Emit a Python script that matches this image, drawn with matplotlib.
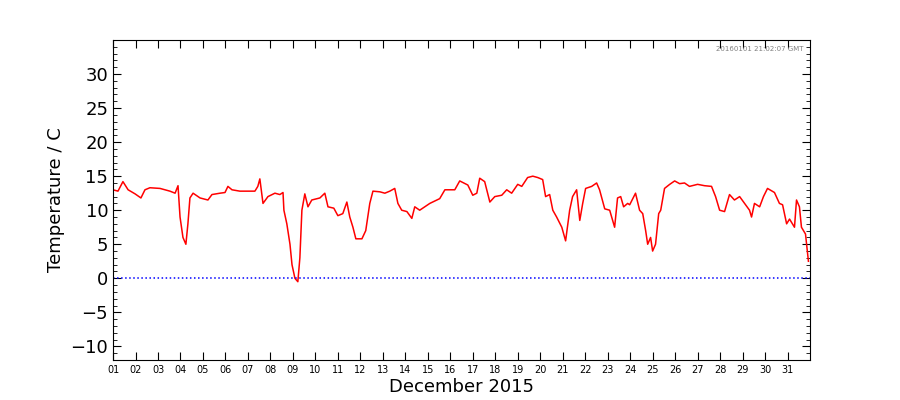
import matplotlib
matplotlib.use("Agg")
import matplotlib.pyplot as plt
from matplotlib.ticker import MultipleLocator

days = [0, .22, .44, .67, .98, 1.24, 1.42, 1.64, 2.09, 2.53, 2.76, 2.89, 2.98, 3.11, 3.24, 3.33, 3.42, 3.56,
        3.87, 4.22, 4.4, 4.76, 4.98, 5.11, 5.29, 5.64, 6.31, 6.44, 6.53, 6.67, 6.89, 7.2, 7.42, 7.56, 7.6,
        7.73, 7.87, 7.96, 8.09, 8.22, 8.31, 8.4, 8.53, 8.67, 8.84, 9.2, 9.42, 9.56, 9.82, 10.0, 10.22, 10.4,
        10.53, 10.67, 10.8, 11.07, 11.24, 11.42, 11.56, 11.87, 12.09, 12.31, 12.53, 12.67, 12.84, 13.07,
        13.29, 13.42, 13.64, 14.09, 14.53, 14.76, 15.2, 15.42, 15.78, 16.0, 16.18, 16.31, 16.53, 16.76,
        16.98, 17.29, 17.51, 17.73, 18.0, 18.18, 18.44, 18.67, 18.89, 19.11, 19.24, 19.42, 19.56, 19.73,
        19.96, 20.13, 20.31, 20.44, 20.62, 20.76, 20.89, 21.02, 21.29, 21.51, 21.64, 21.87, 22.09, 22.31,
        22.44, 22.58, 22.71, 22.89, 22.98, 23.24, 23.42, 23.56, 23.69, 23.78, 23.91, 24.0, 24.13, 24.27,
        24.36, 24.53, 24.76, 24.98, 25.2, 25.42, 25.64, 26.0, 26.31, 26.62, 26.8, 26.98, 27.2, 27.42,
        27.64, 27.87, 28.09, 28.31, 28.4, 28.53, 28.76, 28.93, 29.11, 29.42, 29.64, 29.78, 29.96, 30.09,
        30.31, 30.4, 30.53, 30.62, 30.8, 30.93]
temps = [13, 12.8, 14.2, 13, 12.4, 11.8, 13, 13.3, 13.2, 12.8, 12.5, 13.6, 9, 6, 5, 8, 11.8, 12.5,
         11.8, 11.5, 12.3, 12.5, 12.6, 13.5, 13, 12.8, 12.8, 13.5, 14.6, 11, 12, 12.5, 12.3, 12.6, 10,
         8, 5, 2, 0, -0.5, 3, 10, 12.4, 10.5, 11.5, 11.8, 12.5, 10.5, 10.3, 9.2, 9.5, 11.2,
         9, 7.5, 5.8, 5.8, 7, 11, 12.8, 12.7, 12.5, 12.8, 13.2, 11, 10, 9.8,
         8.8, 10.5, 10, 11, 11.7, 13, 13, 14.3, 13.7, 12.2, 12.5, 14.7, 14.2, 11.2,
         12, 12.2, 13, 12.5, 13.8, 13.5, 14.8, 15, 14.8, 14.5, 12, 12.3, 10, 9,
         7.5, 5.5, 10, 12, 13, 8.5, 11, 13.2, 13.5, 14, 13, 10.2, 10, 7.5,
         11.8, 12, 10.5, 11, 10.8, 12.5, 10, 9.5, 7, 5, 6, 4, 5, 9.5,
         10, 13.2, 13.8, 14.3, 13.9, 14, 13.5, 13.8, 13.6, 13.5, 12, 10, 9.8, 12.3,
         11.5, 12, 11, 10, 9, 11, 10.5, 12, 13.2, 12.6, 11, 10.8, 8, 8.7,
         7.5, 11.5, 10.5, 7.5, 6.5, 2.5]
tick_labels = ["%02d" % d for d in range(1, 32)]

fig = plt.figure(figsize=(9, 4), dpi=100)
ax = fig.add_axes([0.1256, 0.1, 0.7744, 0.8])
ax.plot(days, temps, color="red", lw=1.1)
ax.axhline(0, color="blue", ls=":", lw=1.1)
ax.set_xlim(0, 31)
ax.set_ylim(-12, 35)
ax.set_xticks(range(31))
ax.set_xticklabels(tick_labels, fontsize=7)
ax.set_yticks(range(-10, 35, 5))
ax.set_yticklabels([str(v).replace("-", "\u2212") for v in range(-10, 35, 5)], fontsize=13)
ax.yaxis.set_minor_locator(MultipleLocator(1))
ax.tick_params(direction="in", top=True, right=True, which="both")
ax.tick_params(which="major", length=6)
ax.tick_params(which="minor", length=3)
ax.set_xlabel("December 2015", fontsize=13, labelpad=2)
ax.set_ylabel("Temperature / C", fontsize=13)
ax.text(0.99, 0.98, "20160101 21:02:07 GMT", transform=ax.transAxes, ha="right", va="top",
        fontsize=5, color="gray")
fig.savefig("out.png", dpi=100)
